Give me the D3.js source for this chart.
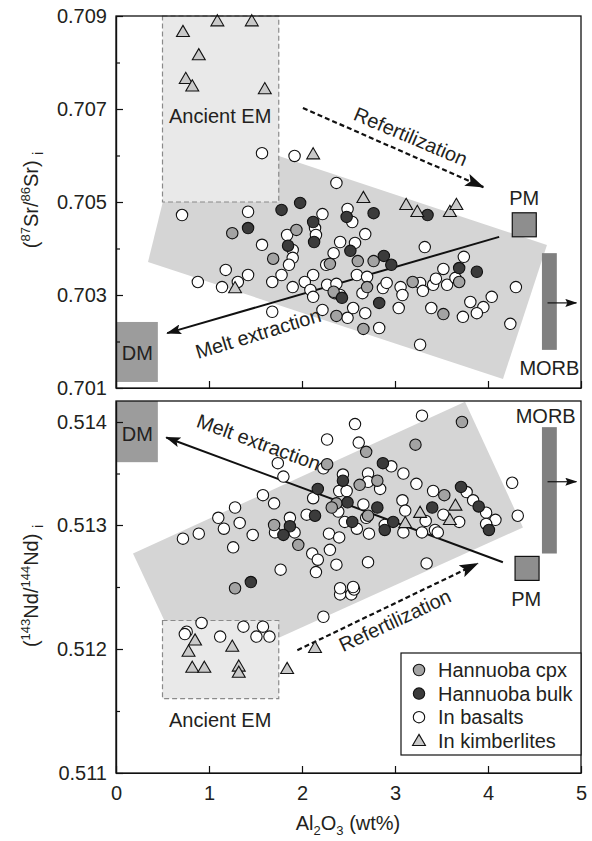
<!DOCTYPE html>
<html>
<head>
<meta charset="utf-8">
<script src="https://cdn.jsdelivr.net/npm/d3@7"></script>
<style>
body { margin: 0; background: #fff; }
svg text { font-family: "Liberation Sans", Arial, sans-serif; fill: #231f20; }
</style>
</head>
<body>
<svg width="592" height="841"></svg>
<script>
// tick values
const xTicks = [0, 1, 2, 3, 4, 5];
const srTicks = [0.701, 0.703, 0.705, 0.707, 0.709];
const srMinor = [0.702, 0.704, 0.706, 0.708];
const ndTicks = [0.511, 0.512, 0.513, 0.514];
const ndMinor = [0.5115, 0.5125, 0.5135];

// [Al2O3, 87Sr/86Sr]
const srCpx = [[1.25,0.70433],[1.94,0.70440],[1.69,0.70378],[2.60,0.70373],[2.77,0.70373],[2.30,0.70367],[2.70,0.70317],[3.19,0.70328],[3.69,0.70328],[2.34,0.70307],[2.37,0.70255],[2.66,0.70227],[3.52,0.70259]];
const srBulk = [[1.78,0.70483],[1.98,0.70498],[1.42,0.70444],[1.85,0.70406],[2.48,0.70468],[2.77,0.70476],[2.12,0.70457],[2.13,0.70414],[2.52,0.70395],[2.88,0.70384],[2.96,0.70365],[3.35,0.70472],[3.69,0.70358],[3.88,0.70350],[2.43,0.70294],[2.83,0.70283]];
const srBasalt = [[1.57,0.70605],[1.92,0.70599],[2.37,0.70541],[0.71,0.70472],[1.42,0.70479],[1.84,0.70429],[1.57,0.70408],[1.90,0.70397],[1.90,0.70380],[1.86,0.70365],[1.18,0.70354],[1.42,0.70343],[1.78,0.70343],[1.31,0.70328],[0.88,0.70328],[1.14,0.70317],[1.68,0.70328],[1.90,0.70317],[1.68,0.70264],[2.22,0.70474],[2.49,0.70485],[2.54,0.70457],[2.14,0.70444],[2.15,0.70429],[2.41,0.70414],[2.57,0.70412],[2.68,0.70431],[2.34,0.70390],[3.32,0.70403],[3.74,0.70382],[3.52,0.70356],[2.26,0.70365],[2.12,0.70343],[2.03,0.70328],[2.09,0.70311],[2.27,0.70322],[2.37,0.70324],[2.59,0.70343],[2.70,0.70339],[2.65,0.70304],[2.87,0.70315],[2.91,0.70326],[3.06,0.70317],[3.08,0.70300],[3.27,0.70326],[3.30,0.70309],[3.41,0.70322],[3.44,0.70335],[3.56,0.70322],[3.65,0.70337],[4.30,0.70317],[2.35,0.70304],[2.41,0.70300],[2.12,0.70296],[2.22,0.70268],[2.49,0.70251],[2.55,0.70272],[2.68,0.70261],[2.83,0.70229],[3.04,0.70272],[3.39,0.70272],[3.81,0.70285],[4.04,0.70296],[3.95,0.70274],[3.88,0.70261],[3.73,0.70253],[4.24,0.70238],[3.27,0.70193]];
const srKimb = [[0.72,0.70866],[1.09,0.70889],[1.46,0.70889],[0.89,0.70816],[0.75,0.70765],[0.82,0.70749],[1.60,0.70743],[2.12,0.70603],[2.66,0.70509],[3.12,0.70494],[3.24,0.70479],[3.59,0.70479],[3.66,0.70494],[1.28,0.70315]];

// [Al2O3, 143Nd/144Nd]
const ndCpx = [[1.70,0.51300],[1.96,0.51284],[1.28,0.51249],[3.72,0.51400],[3.22,0.51378],[2.69,0.51371],[2.27,0.51359],[2.62,0.51339],[2.81,0.51343],[3.53,0.51329],[2.37,0.51321],[2.32,0.51317],[2.71,0.51309]];
const ndBulk = [[1.87,0.51299],[1.80,0.51292],[1.45,0.51254],[2.87,0.51360],[2.44,0.51343],[3.71,0.51337],[2.17,0.51335],[2.49,0.51322],[2.81,0.51317],[3.40,0.51317],[3.90,0.51318],[4.01,0.51296],[2.54,0.51303],[2.89,0.51296],[2.98,0.51303],[2.14,0.51309]];
const ndBasalt = [[1.74,0.51360],[1.80,0.51347],[1.58,0.51329],[1.70,0.51321],[1.28,0.51317],[1.10,0.51307],[1.33,0.51302],[1.16,0.51297],[0.72,0.51289],[0.89,0.51293],[1.47,0.51292],[1.26,0.51282],[1.87,0.51307],[1.71,0.51294],[1.92,0.51294],[1.77,0.51264],[0.92,0.51221],[0.76,0.51214],[0.74,0.51212],[1.12,0.51210],[1.37,0.51218],[1.58,0.51218],[1.51,0.51210],[1.65,0.51210],[2.41,0.51244],[2.53,0.51244],[2.56,0.51248],[2.23,0.51226],[3.29,0.51406],[2.57,0.51398],[2.27,0.51383],[2.61,0.51380],[2.96,0.51357],[2.23,0.51355],[3.09,0.51350],[2.71,0.51350],[2.44,0.51349],[2.84,0.51335],[2.71,0.51342],[3.23,0.51340],[4.26,0.51341],[3.41,0.51333],[3.77,0.51332],[2.40,0.51333],[2.48,0.51333],[2.12,0.51326],[2.66,0.51320],[2.39,0.51313],[3.08,0.51324],[3.11,0.51314],[3.52,0.51310],[3.69,0.51303],[3.84,0.51324],[3.98,0.51312],[4.08,0.51305],[3.98,0.51301],[4.32,0.51309],[3.33,0.51304],[2.46,0.51303],[2.69,0.51307],[2.59,0.51297],[2.72,0.51293],[2.89,0.51300],[3.09,0.51294],[3.29,0.51294],[3.43,0.51296],[3.46,0.51294],[2.05,0.51310],[2.29,0.51293],[2.40,0.51290],[2.30,0.51280],[2.11,0.51277],[2.17,0.51272],[2.15,0.51262],[2.37,0.51268],[2.71,0.51270],[3.34,0.51269],[2.41,0.51249],[2.55,0.51250]];
const ndKimb = [[0.85,0.51207],[0.78,0.51198],[1.25,0.51202],[0.82,0.51185],[0.95,0.51185],[1.32,0.51186],[1.32,0.51181],[1.84,0.51184],[2.14,0.51201],[3.27,0.51312],[3.65,0.51319],[3.59,0.51305],[3.11,0.51302]];

// reference fields, in data units
const srField = [[0.71,0.70668],[4.634,0.704075],[4.161,0.701194],[0.344,0.70371]];
const ndField = [[0.183,0.51277],[3.753,0.514194],[4.376,0.51298],[0.806,0.51177]];
const srAncient = [0.5, 1.75, 0.705, 0.709];
const ndAncient = [0.5, 1.75, 0.5116, 0.51223];
const srDM = [0, 0.45, 0.70113, 0.70242];
const ndDM = [0, 0.45, 0.51361, 0.5142];
const srMORB = [4.58, 4.74, 0.70182, 0.70390];
const ndMORB = [4.58, 4.74, 0.51277, 0.51395];
const srPM = [4.39, 0.70451];
const ndPM = [4.42, 0.51265];
const srMelt = [[4.12,0.70425],[0.55,0.70218]];
const ndMelt = [[4.16,0.51270],[0.54,0.51385]];
const srRefert = [[2.01,0.70702],[3.95,0.70532]];
const ndRefert = [[1.95,0.51199],[3.89,0.51269]];
const srMorbArrow = [[4.64,0.70283],[4.95,0.70283]];
const ndMorbArrow = [[4.64,0.51342],[4.95,0.51342]];

const legendNames = ['Hannuoba cpx', 'Hannuoba bulk', 'In basalts', 'In kimberlites'];

const svg = d3.select('svg');
const fontSize = 20;

const x = d3.scaleLinear().domain([0, 5]).range([116, 581]);
const ySr = d3.scaleLinear().domain([0.701, 0.709]).range([388, 16]);
// the Nd axis of the figure is not evenly spaced near the top, follow it
const yNd = d3.scaleLinear()
    .domain([0.511, 0.512, 0.513, 0.514, 0.5142])
    .range([773, 649, 525, 422, 401]);

const styles = {
    cpx: { fill: '#a3a3a3', shape: 'circle' },
    bulk: { fill: '#3b3b3b', shape: 'circle' },
    basalt: { fill: '#ffffff', shape: 'circle' },
    kimb: { fill: '#c9c9c9', shape: 'triangle' }
};

const defs = svg.append('defs');
function marker(id, w, h, notch) {
    defs.append('marker')
        .attr('id', id)
        .attr('viewBox', `0 0 ${w} ${h}`)
        .attr('refX', w - 1)
        .attr('refY', h / 2)
        .attr('markerWidth', w)
        .attr('markerHeight', h)
        .attr('markerUnits', 'userSpaceOnUse')
        .attr('orient', 'auto')
        .append('path')
        .attr('d', `M0,0 L${w},${h / 2} L0,${h} L${notch},${h / 2} Z`)
        .attr('fill', '#111');
}
marker('headMelt', 15, 10, 3);
marker('headRef', 19, 13, 4);
marker('headSmall', 12, 8, 2);

const tri = d3.symbol().type(d3.symbolTriangle).size(72);

function drawPoints(g, y, pts, st) {
    if (st.shape === 'circle') {
        g.selectAll(null).data(pts).enter().append('circle')
            .attr('cx', d => x(d[0]))
            .attr('cy', d => y(d[1]))
            .attr('r', 5.7)
            .attr('fill', st.fill)
            .attr('stroke', '#111')
            .attr('stroke-width', 1.1);
    } else {
        g.selectAll(null).data(pts).enter().append('path')
            .attr('d', tri)
            .attr('transform', d => `translate(${x(d[0])},${y(d[1]) + 1})`)
            .attr('fill', st.fill)
            .attr('stroke', '#111')
            .attr('stroke-width', 1.1);
    }
}

function rectBox(g, y, b) {
    return g.append('rect')
        .attr('x', x(b[0]))
        .attr('y', y(b[3]))
        .attr('width', x(b[1]) - x(b[0]))
        .attr('height', y(b[2]) - y(b[3]));
}

function lineOf(g, y, seg) {
    return g.append('line')
        .attr('x1', x(seg[0][0])).attr('y1', y(seg[0][1]))
        .attr('x2', x(seg[1][0])).attr('y2', y(seg[1][1]))
        .attr('stroke', '#111');
}

function label(g, y, txt, lx, ly, angle) {
    g.append('text')
        .attr('transform', `translate(${x(lx)},${y(ly)}) rotate(${angle || 0})`)
        .attr('text-anchor', 'middle')
        .attr('font-size', fontSize)
        .text(txt);
}

function panel(y, p) {
    const g = svg.append('g');

    g.append('path')
        .attr('d', d3.line()(p.field.map(d => [x(d[0]), y(d[1])])) + 'Z')
        .attr('fill', '#d5d5d5');

    rectBox(g, y, p.ancient)
        .attr('fill', '#e9e9e9')
        .attr('stroke', '#8a8a8a')
        .attr('stroke-width', 1.2)
        .attr('stroke-dasharray', '5,3');

    rectBox(g, y, p.dm).attr('fill', '#9c9c9c');
    rectBox(g, y, p.morb).attr('fill', '#808080');

    g.append('rect')
        .attr('x', x(p.pm[0]) - 12)
        .attr('y', y(p.pm[1]) - 12)
        .attr('width', 24)
        .attr('height', 24)
        .attr('fill', '#8e8e8e')
        .attr('stroke', '#111')
        .attr('stroke-width', 1.2);

    lineOf(g, y, p.melt).attr('stroke-width', 2).attr('marker-end', 'url(#headMelt)');
    lineOf(g, y, p.refert)
        .attr('stroke-width', 2.2)
        .attr('stroke-dasharray', '5,3')
        .attr('marker-end', 'url(#headRef)');
    lineOf(g, y, p.morbArrow).attr('stroke-width', 1.2).attr('marker-end', 'url(#headSmall)');

    drawPoints(g, y, p.basalt, styles.basalt);
    drawPoints(g, y, p.cpx, styles.cpx);
    drawPoints(g, y, p.bulk, styles.bulk);
    drawPoints(g, y, p.kimb, styles.kimb);

    // axes, ticks drawn inwards
    g.append('g')
        .attr('transform', `translate(${x(0)},0)`)
        .call(d3.axisLeft(y).tickValues(p.ticks).tickSize(-7).tickSizeOuter(0)
            .tickPadding(9).tickFormat(d3.format('.3f')));
    g.append('g')
        .attr('transform', `translate(${x(0)},0)`)
        .call(d3.axisLeft(y).tickValues(p.minor).tickSize(-4).tickSizeOuter(0).tickFormat(''));
    g.append('g')
        .attr('transform', `translate(0,${y.range()[0]})`)
        .call(d3.axisBottom(x).tickValues(xTicks).tickSize(-7).tickSizeOuter(0)
            .tickPadding(13).tickFormat(p.xLabels ? d3.format('d') : ''));

    g.selectAll('.tick line, .domain').attr('stroke', '#111').attr('stroke-width', 1.2);
    g.selectAll('.tick text').attr('font-size', fontSize).attr('fill', '#231f20')
        .attr('font-family', '"Liberation Sans", Arial, sans-serif');

    const yr = y.range();
    g.append('rect')
        .attr('x', x(0))
        .attr('y', yr[yr.length - 1])
        .attr('width', x(5) - x(0))
        .attr('height', yr[0] - yr[yr.length - 1])
        .attr('fill', 'none')
        .attr('stroke', '#111')
        .attr('stroke-width', 1.3);

    p.labels.forEach(l => label(g, y, l[0], l[1], l[2], l[3]));
    return g;
}

panel(ySr, {
    field: srField, ancient: srAncient, dm: srDM, morb: srMORB, pm: srPM,
    melt: srMelt, refert: srRefert, morbArrow: srMorbArrow,
    cpx: srCpx, bulk: srBulk, basalt: srBasalt, kimb: srKimb,
    ticks: srTicks, minor: srMinor, xLabels: false,
    labels: [
        ['Ancient EM', 1.12, 0.70670, 0],
        ['Refertilization', 3.14, 0.70627, 23],
        ['PM', 4.39, 0.70494, 0],
        ['MORB', 4.66, 0.70128, 0],
        ['DM', 0.23, 0.70160, 0],
        ['Melt extraction', 1.55, 0.70203, -17]
    ]
});

const bottom = panel(yNd, {
    field: ndField, ancient: ndAncient, dm: ndDM, morb: ndMORB, pm: ndPM,
    melt: ndMelt, refert: ndRefert, morbArrow: ndMorbArrow,
    cpx: ndCpx, bulk: ndBulk, basalt: ndBasalt, kimb: ndKimb,
    ticks: ndTicks, minor: ndMinor, xLabels: true,
    labels: [
        ['Ancient EM', 1.12, 0.51137, 0],
        ['Refertilization', 3.03, 0.51218, -25],
        ['PM', 4.41, 0.51235, 0],
        ['MORB', 4.62, 0.51399, 0],
        ['DM', 0.23, 0.51382, 0],
        ['Melt extraction', 1.51, 0.51374, 20]
    ]
});

// legend
const lg = bottom.append('g').attr('transform', `translate(${x(5) - 180},653)`);
lg.append('rect')
    .attr('width', 180).attr('height', 102)
    .attr('fill', '#fff').attr('stroke', '#111').attr('stroke-width', 1.2);
const legendStyles = [styles.cpx, styles.bulk, styles.basalt, styles.kimb];
legendNames.forEach((name, i) => {
    const row = lg.append('g').attr('transform', `translate(18,${17 + i * 23.6})`);
    const st = legendStyles[i];
    if (st.shape === 'circle') {
        row.append('circle').attr('r', 5.7).attr('fill', st.fill)
            .attr('stroke', '#111').attr('stroke-width', 1.1);
    } else {
        row.append('path').attr('d', tri).attr('transform', 'translate(0,1)')
            .attr('fill', st.fill).attr('stroke', '#111').attr('stroke-width', 1.1);
    }
    row.append('text').attr('x', 19).attr('y', 7).attr('font-size', fontSize).text(name);
});

// axis titles
function isoTitle(cx, cy, a, el1, b, el2) {
    const t = svg.append('text')
        .attr('transform', `translate(${cx},${cy}) rotate(-90)`)
        .attr('text-anchor', 'middle')
        .attr('font-size', fontSize);
    t.append('tspan').text('(');
    t.append('tspan').attr('font-size', 13).attr('dy', -8).text(a);
    t.append('tspan').attr('dy', 8).text(el1 + '/');
    t.append('tspan').attr('font-size', 13).attr('dy', -8).text(b);
    t.append('tspan').attr('dy', 8).text(el2 + ') ');
    t.append('tspan').attr('font-size', 14).attr('dy', 5).text('i');
}
isoTitle(38, 200, '87', 'Sr', '86', 'Sr');
isoTitle(38, 586, '143', 'Nd', '144', 'Nd');

const xt = svg.append('text')
    .attr('x', 348).attr('y', 830)
    .attr('text-anchor', 'middle')
    .attr('font-size', fontSize);
xt.append('tspan').text('Al');
xt.append('tspan').attr('font-size', 13).attr('dy', 5).text('2');
xt.append('tspan').attr('dy', -5).text('O');
xt.append('tspan').attr('font-size', 13).attr('dy', 5).text('3');
xt.append('tspan').attr('dy', -5).text(' (wt%)');
</script>
</body>
</html>
